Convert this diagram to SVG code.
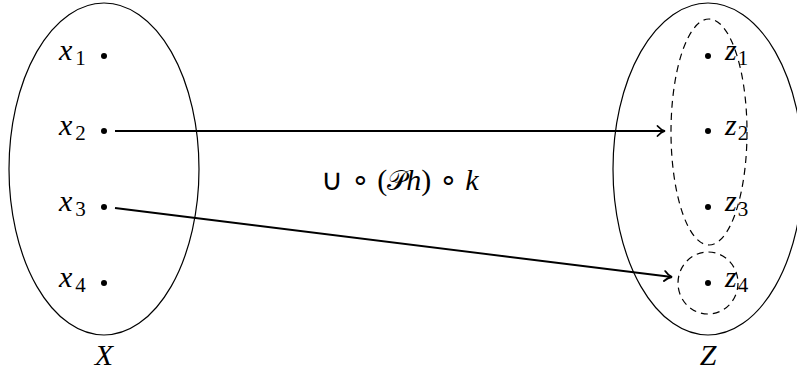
<svg xmlns="http://www.w3.org/2000/svg" width="797" height="379" viewBox="0 0 797 379">
<style>
.set{fill:none;stroke:#000;stroke-width:1.2}
.dash{fill:none;stroke:#000;stroke-width:1.2;stroke-dasharray:7,5}
.dot{fill:#000}
.edge{fill:none;stroke:#000;stroke-width:2}
</style>
<defs>
<marker id="to" markerWidth="14" markerHeight="14" refX="10" refY="7" orient="auto" markerUnits="userSpaceOnUse">
<path d="M2.5,2 Q6,6 10,7 Q6,8 2.5,12" fill="none" stroke="#000" stroke-width="1.8" stroke-linecap="round"/>
</marker>
</defs>
<g id="X">
<ellipse class="set" cx="104" cy="169" rx="95" ry="166"/>
<text x="104" y="365" text-anchor="middle" font-family="Liberation Serif" font-size="30" font-style="italic">X</text>
</g>
<g id="x1"><circle class="dot" cx="104" cy="56" r="3"/><text x="59" y="60" font-family="Liberation Serif" font-size="30" font-style="italic">x<tspan font-style="normal" font-size="21" dx="3" dy="4.5">1</tspan></text></g>
<g id="x2"><circle class="dot" cx="104" cy="131" r="3"/><text x="59" y="135" font-family="Liberation Serif" font-size="30" font-style="italic">x<tspan font-style="normal" font-size="21" dx="3" dy="4.5">2</tspan></text></g>
<g id="x3"><circle class="dot" cx="104" cy="207" r="3"/><text x="59" y="211" font-family="Liberation Serif" font-size="30" font-style="italic">x<tspan font-style="normal" font-size="21" dx="3" dy="4.5">3</tspan></text></g>
<g id="x4"><circle class="dot" cx="104" cy="283" r="3"/><text x="59" y="287" font-family="Liberation Serif" font-size="30" font-style="italic">x<tspan font-style="normal" font-size="21" dx="3" dy="4.5">4</tspan></text></g>
<g id="Z">
<ellipse class="set" cx="708" cy="169" rx="95" ry="166"/>
<text x="708" y="365" text-anchor="middle" font-family="Liberation Serif" font-size="30" font-style="italic">Z</text>
</g>
<g id="img">
<ellipse class="dash" cx="709" cy="132" rx="38" ry="113"/>
</g>
<g id="single">
<ellipse class="dash" cx="708" cy="283" rx="30" ry="31"/>
</g>
<g id="z1"><circle class="dot" cx="708" cy="56" r="3"/><text x="725" y="60" font-family="Liberation Serif" font-size="30" font-style="italic">z<tspan font-style="normal" font-size="21" dx="1" dy="4.5">1</tspan></text></g>
<g id="z2"><circle class="dot" cx="708" cy="131" r="3"/><text x="725" y="135" font-family="Liberation Serif" font-size="30" font-style="italic">z<tspan font-style="normal" font-size="21" dx="1" dy="4.5">2</tspan></text></g>
<g id="z3"><circle class="dot" cx="708" cy="207" r="3"/><text x="725" y="211" font-family="Liberation Serif" font-size="30" font-style="italic">z<tspan font-style="normal" font-size="21" dx="1" dy="4.5">3</tspan></text></g>
<g id="z4"><circle class="dot" cx="708" cy="283" r="3"/><text x="725" y="287" font-family="Liberation Serif" font-size="30" font-style="italic">z<tspan font-style="normal" font-size="21" dx="1" dy="4.5">4</tspan></text></g>
<g id="connectors">
<line class="edge" x1="115" y1="131" x2="665" y2="131" marker-end="url(#to)"/>
<line class="edge" x1="115" y1="208" x2="672" y2="277" marker-end="url(#to)"/>
</g>
<g id="label">
<text x="400" y="190" text-anchor="middle" font-family="Liberation Serif" font-size="30">∪ ∘ (<tspan font-family="DejaVu Serif" font-size="27">𝒫</tspan><tspan font-style="italic">h</tspan>) ∘ <tspan font-style="italic">k</tspan></text>
</g>
</svg>
